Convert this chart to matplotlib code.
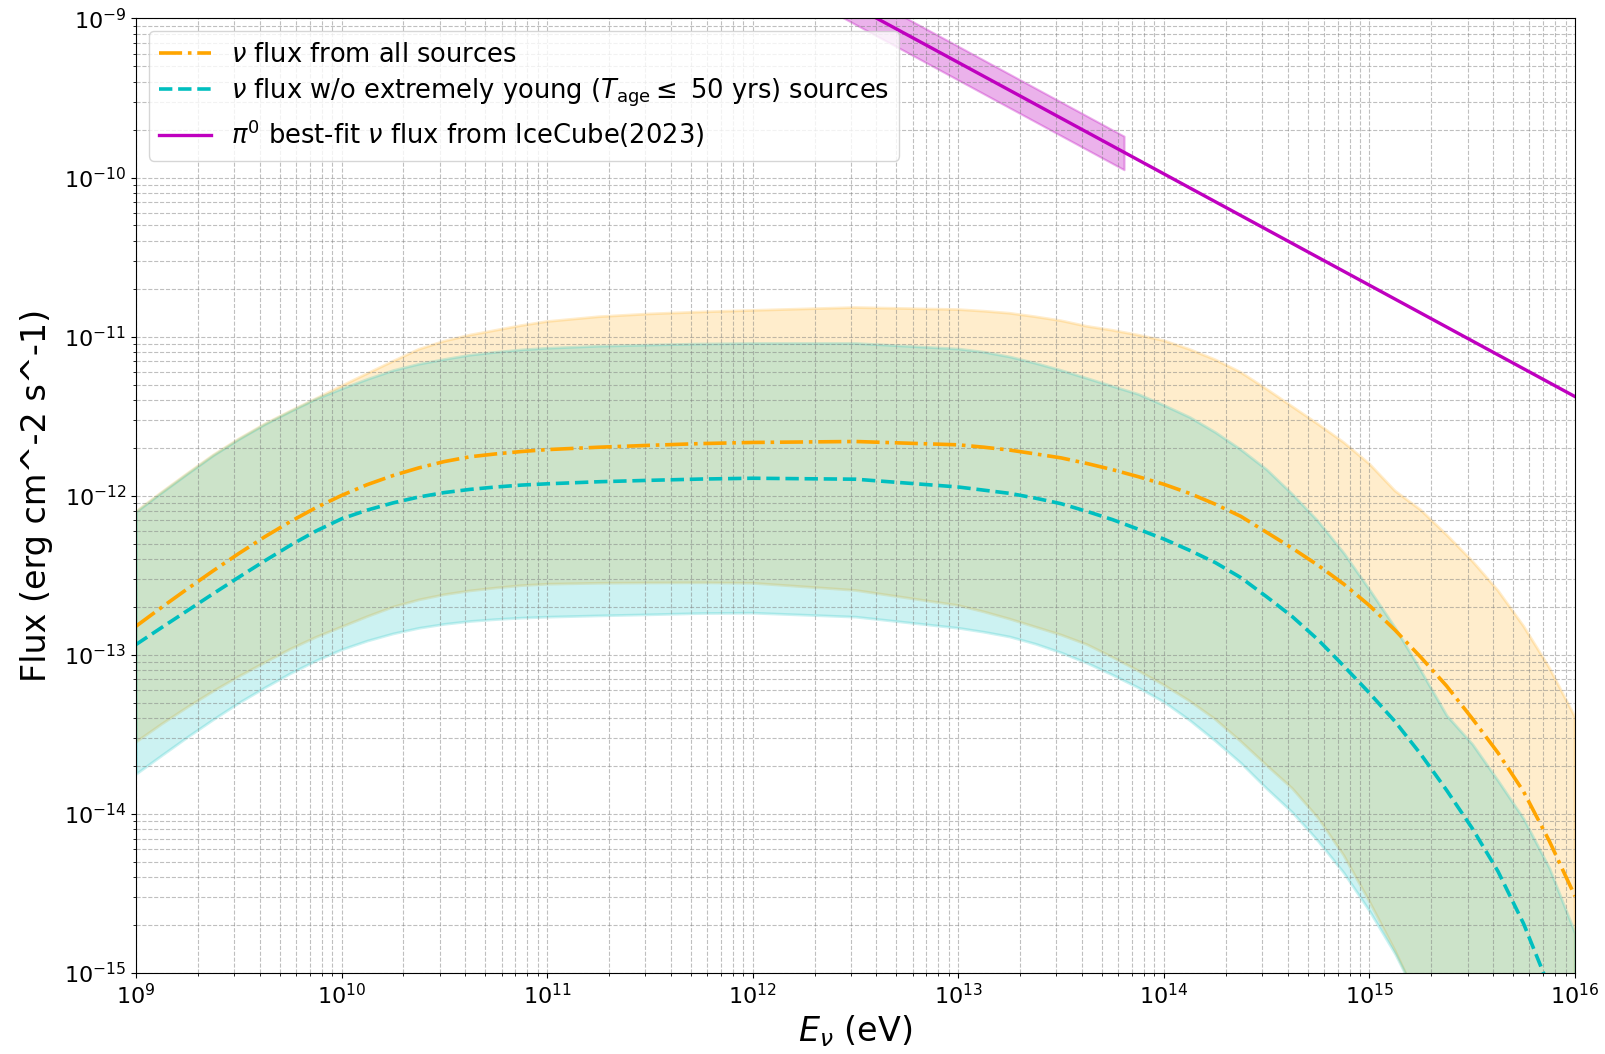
import numpy as np
import matplotlib
matplotlib.use("Agg")
import matplotlib.pyplot as plt

logE = [9.0, 9.125, 9.25, 9.375, 9.5, 9.625, 9.75, 9.875, 10.0, 10.125, 10.25, 10.375, 10.5,
        10.625, 10.75, 10.875, 11.0,
        11.25, 11.5, 11.75, 12.0, 12.5, 13.0,
        13.125, 13.25, 13.375, 13.5, 13.625, 13.75, 13.875, 14.0, 14.125, 14.25, 14.375, 14.5,
        14.625, 14.75, 14.875, 15.0, 15.125, 15.25, 15.375, 15.5, 15.625, 15.75, 15.875, 16.0]

# log10 flux - all sources
all_mid = [-12.82, -12.701, -12.585, -12.472, -12.363, -12.259, -12.163, -12.075, -11.998, -11.93,
           -11.873, -11.825, -11.785, -11.755, -11.737, -11.722, -11.71,
           -11.695, -11.683, -11.672, -11.665, -11.659, -11.68,
           -11.695, -11.713, -11.737, -11.762, -11.797, -11.836, -11.88, -11.928, -11.985, -12.053,
           -12.13, -12.23, -12.33, -12.437, -12.555, -12.69, -12.845, -13.015, -13.195, -13.40,
           -13.615, -13.86, -14.17, -14.517]
all_hi = [-12.10, -11.978, -11.86, -11.745, -11.643, -11.55, -11.468, -11.39, -11.31, -11.232,
          -11.155, -11.08, -11.028, -10.99, -10.96, -10.93, -10.905,
          -10.875, -10.857, -10.845, -10.835, -10.817, -10.83,
          -10.84, -10.853, -10.875, -10.90, -10.935, -10.96, -10.99, -11.025, -11.08, -11.145,
          -11.225, -11.33, -11.44, -11.55, -11.665, -11.80, -11.97, -12.09, -12.245, -12.41,
          -12.595, -12.82, -13.08, -13.39]
all_lo = [-13.549, -13.436, -13.33, -13.23, -13.137, -13.05, -12.965, -12.89, -12.825, -12.76,
          -12.70, -12.655, -12.622, -12.598, -12.58, -12.565, -12.556,
          -12.55, -12.548, -12.547, -12.55, -12.595, -12.69,
          -12.73, -12.775, -12.825, -12.875, -12.935, -13.015, -13.10, -13.19, -13.29, -13.405,
          -13.545, -13.695, -13.84, -14.025, -14.26, -14.55, -14.86, -15.2, -15.55, -15.9,
          -16.3, -16.7, -17.1, -17.5]

# log10 flux - w/o extremely young sources
young_mid = [-12.935, -12.828, -12.722, -12.616, -12.512, -12.41, -12.312, -12.222, -12.145, -12.09,
             -12.045, -12.008, -11.98, -11.96, -11.945, -11.933, -11.925,
             -11.912, -11.903, -11.895, -11.89, -11.896, -11.945,
             -11.965, -11.985, -12.015, -12.05, -12.098, -12.15, -12.21, -12.272, -12.343, -12.42,
             -12.515, -12.635, -12.76, -12.905, -13.07, -13.24, -13.42, -13.625, -13.85, -14.09,
             -14.36, -14.69, -15.09, -15.5]
young_hi = [-12.10, -11.978, -11.86, -11.745, -11.643, -11.55, -11.468, -11.39, -11.325, -11.265,
            -11.21, -11.17, -11.14, -11.113, -11.095, -11.08, -11.07,
            -11.057, -11.05, -11.043, -11.04, -11.04, -11.075,
            -11.095, -11.125, -11.165, -11.21, -11.26, -11.31, -11.36, -11.43, -11.505, -11.60,
            -11.71, -11.835, -11.99, -12.16, -12.36, -12.59, -12.83, -13.10, -13.38, -13.56,
            -13.79, -14.03, -14.34, -14.75]
young_lo = [-13.747, -13.63, -13.515, -13.405, -13.30, -13.205, -13.115, -13.035, -12.965, -12.91,
            -12.865, -12.83, -12.805, -12.787, -12.775, -12.766, -12.76,
            -12.752, -12.745, -12.737, -12.735, -12.76, -12.83,
            -12.855, -12.885, -12.93, -12.985, -13.05, -13.125, -13.205, -13.295, -13.41, -13.54,
            -13.68, -13.84, -13.99, -14.17, -14.37, -14.61, -14.88, -15.2, -15.55, -15.9,
            -16.3, -16.7, -17.1, -17.5]

# IceCube(2023) pi0 best fit
ice_E = [1e12, 1e16]
ice_F = [2.65e-9, 4.2e-12]
ice_band_E = [1e12, 6.4e13]
ice_band_hi = [3.35e-9, 1.82e-10]
ice_band_lo = [2.05e-9, 1.12e-10]

E = 10 ** np.array(logE)

fig = plt.figure(figsize=(16.06, 10.54), dpi=100)
ax = fig.add_subplot(111)
fig.subplots_adjust(left=0.0847, right=0.9807, top=0.9825, bottom=0.0768)

ax.plot(E, 10 ** np.array(all_mid), color='orange', ls='-.', lw=2.6,
        label=r'$\nu$ flux from all sources')
ax.fill_between(E, 10 ** np.array(all_lo), 10 ** np.array(all_hi), color='orange', alpha=0.2, lw=2)

ax.plot(E, 10 ** np.array(young_mid), color='c', ls='--', lw=2.6,
        label=r'$\nu$ flux w/o extremely young ($T_{\rm age} \leq$ 50 yrs) sources')
ax.fill_between(E, 10 ** np.array(young_lo), 10 ** np.array(young_hi), color='c', alpha=0.2, lw=2)

ax.plot(ice_E, ice_F, color='m', lw=2.4, label=r'$\pi^0$ best-fit $\nu$ flux from IceCube(2023)')
ax.fill_between(ice_band_E, ice_band_lo, ice_band_hi, color='m', alpha=0.3, lw=1.5)

ax.set_xscale('log')
ax.set_yscale('log')
ax.set_xlim(1e9, 1e16)
ax.set_ylim(1e-15, 1e-9)
ax.grid(True, which='both', ls='--', lw=0.8, color='gray', alpha=0.5)
ax.tick_params(labelsize=16)
ax.set_xlabel(r'$E_\nu$ (eV)', fontsize=24)
ax.set_ylabel('Flux (erg cm^-2 s^-1)', fontsize=24, labelpad=8)
ax.legend(loc='upper left', fontsize=18.5, labelspacing=0.35)

plt.savefig('out.png', dpi=100)
